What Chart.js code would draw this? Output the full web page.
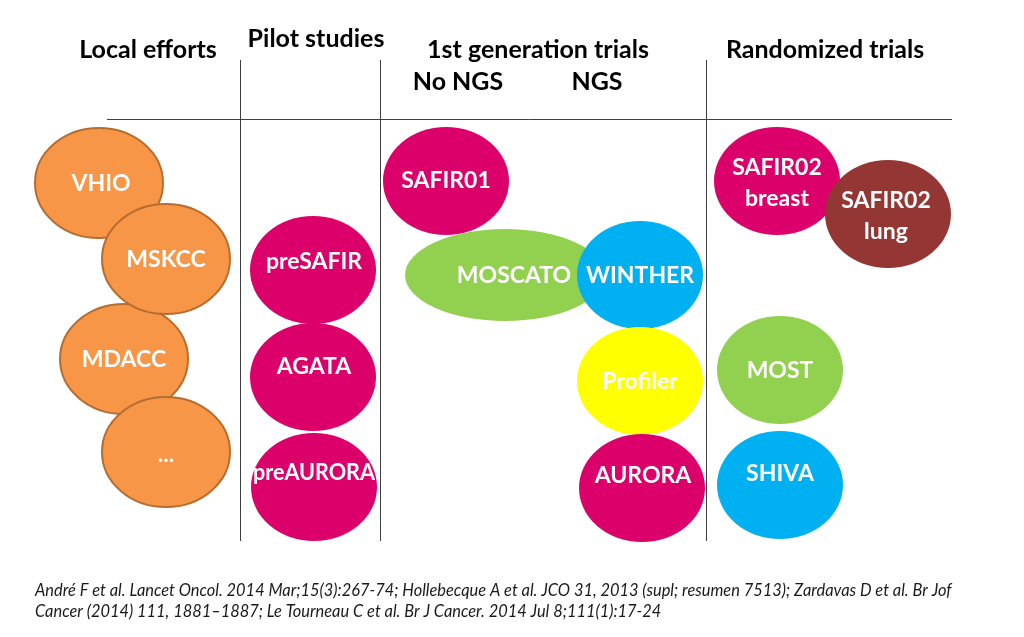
<!DOCTYPE html>
<html>
<head>
<meta charset="utf-8">
<script src="https://cdn.jsdelivr.net/npm/chart.js@4.4.1/dist/chart.umd.min.js"></script>
<style>
  html, body { margin: 0; padding: 0; background: #ffffff; }
  #wrap { width: 1024px; height: 637px; position: relative; }
</style>
</head>
<body>
<div id="wrap"><canvas id="diagram" width="1024" height="637"></canvas></div>
<script>
// Diagram data (drawing order: later items sit on top)
const names = ['VHIO', 'MDACC', 'MSKCC', '...', 'preSAFIR', 'AGATA', 'preAURORA',
    'SAFIR01', 'MOSCATO', 'WINTHER', 'Profiler', 'AURORA',
    'SAFIR02\nbreast', 'SAFIR02\nlung', 'MOST', 'SHIVA'];
const centerX = [99, 124, 166, 166, 313, 313, 314, 446, 505, 640, 640, 642, 777, 888, 780, 780];
const centerY = [183, 359, 259, 452, 270, 377, 487, 181, 275, 275, 381, 488, 181, 214, 370, 485];
const radiusX = [64, 64, 64, 64, 63, 63, 63, 63, 100, 63, 63, 63, 63, 63, 63, 63];
const radiusY = [55, 55, 55, 55, 54, 54, 54, 54, 46, 54, 54, 54, 54, 54, 54, 54];
const labelX = [101, 124, 166, 166, 314, 314, 314, 446, 514, 640, 640, 643, 777, 886, 780, 780];
const labelY = [184, 360, 260, 455, 262, 367, 473, 181, 276, 276, 382, 476, 183, 216, 371, 474];
const groups = ['local', 'local', 'local', 'local', 'pilot', 'pilot', 'pilot',
    'pilot', 'moscato', 'winther', 'profiler', 'pilot',
    'pilot', 'lung', 'moscato', 'winther'];

const headers = ['Local efforts', 'Pilot studies', '1st generation trials', 'No NGS', 'NGS', 'Randomized trials'];
const headerX = [148, 316, 538, 458, 597, 825];
const headerY = [50, 39, 50, 82, 82, 50];

const footnote = [
    'André F et al. Lancet Oncol. 2014 Mar;15(3):267-74; Hollebecque A et al. JCO 31, 2013 (supl; resumen 7513); Zardavas D et al. Br Jof',
    'Cancer (2014) 111, 1881–1887; Le Tourneau C et al. Br J Cancer. 2014 Jul 8;111(1):17-24'
];

// Styles per group
const fills = {
    local: '#F79646', pilot: '#DC006B', moscato: '#92D050',
    winther: '#00B0F0', profiler: '#FFFF00', lung: '#943634'
};
const strokes = { local: '#B66D31' };

const bubblePlugin = {
    id: 'bubbles',
    beforeDatasetsDraw(chart) {
        const ctx = chart.ctx;
        const xs = chart.scales.x, ys = chart.scales.y;
        const px = v => xs.getPixelForValue(v);
        const py = v => ys.getPixelForValue(v);

        // divider lines
        ctx.save();
        ctx.strokeStyle = '#3f3f3f';
        ctx.lineWidth = 1;
        ctx.beginPath();
        ctx.moveTo(px(107), py(119.5));
        ctx.lineTo(px(952), py(119.5));
        [240.5, 380.5, 706.5].forEach(x => {
            ctx.moveTo(px(x), py(60));
            ctx.lineTo(px(x), py(541));
        });
        ctx.stroke();

        // headers
        ctx.fillStyle = '#000000';
        ctx.font = 'bold 25px Lato';
        ctx.textAlign = 'center';
        ctx.textBaseline = 'middle';
        headers.forEach((h, i) => ctx.fillText(h, px(headerX[i]), py(headerY[i])));

        // ellipses
        names.forEach((n, i) => {
            const cx = px(centerX[i]), cy = py(centerY[i]);
            const rx = Math.abs(px(centerX[i] + radiusX[i]) - cx);
            const ry = Math.abs(py(centerY[i] + radiusY[i]) - cy);
            const g = groups[i];
            ctx.beginPath();
            ctx.ellipse(cx, cy, rx, ry, 0, 0, Math.PI * 2);
            ctx.fillStyle = fills[g];
            ctx.fill();
            if (strokes[g]) {
                ctx.lineWidth = 2;
                ctx.strokeStyle = strokes[g];
                ctx.stroke();
            }
        });

        // labels
        ctx.fillStyle = '#ffffff';
        ctx.font = 'bold 23px Lato';
        names.forEach((n, i) => {
            const lines = n.split('\n');
            const tx = px(labelX[i]), ty = py(labelY[i]);
            lines.forEach((l, k) => {
                ctx.fillText(l, tx, ty + (k - (lines.length - 1) / 2) * 31, 122);
            });
        });

        // footnote
        ctx.fillStyle = '#1a1a1a';
        ctx.font = 'italic 16.4px Lato';
        ctx.textAlign = 'left';
        ctx.fillText(footnote[0], px(35), py(591), 944);
        ctx.fillText(footnote[1], px(35), py(612));
        ctx.restore();
    }
};

const ctx = document.getElementById('diagram').getContext('2d');
new Chart(ctx, {
    type: 'scatter',
    data: {
        datasets: [{
            label: 'studies',
            data: names.map((n, i) => ({ x: centerX[i], y: centerY[i] })),
            pointRadius: 0,
            pointHoverRadius: 0
        }]
    },
    options: {
        responsive: false,
        animation: false,
        layout: { padding: 0 },
        scales: {
            x: { type: 'linear', min: 0, max: 1024, display: false },
            y: { type: 'linear', min: 0, max: 637, reverse: true, display: false }
        },
        plugins: {
            legend: { display: false },
            tooltip: { enabled: false }
        }
    },
    plugins: [bubblePlugin]
});
</script>
</body>
</html>
